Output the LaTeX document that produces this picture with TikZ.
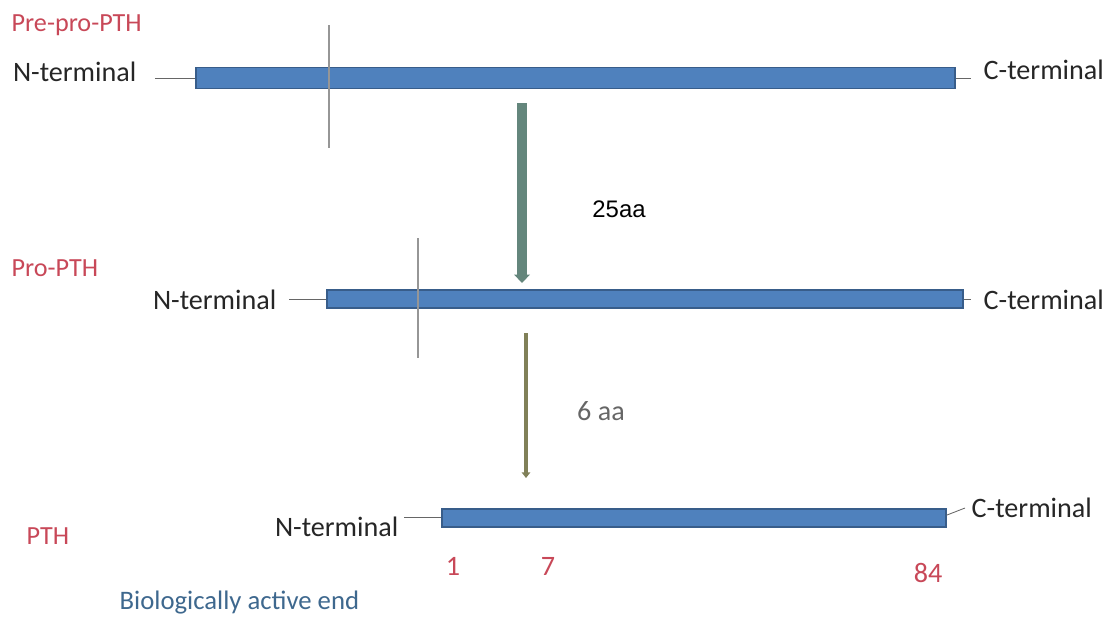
\documentclass[tikz,border=0pt]{standalone}
\usepackage{fontspec}
\setmainfont{Carlito}
\newfontfamily\arialfont{Liberation Sans}
\usetikzlibrary{arrows.meta}
\definecolor{stagered}{RGB}{200,72,88}
\definecolor{barblue}{RGB}{79,129,189}
\definecolor{barline}{RGB}{56,93,138}
\definecolor{cutgray}{RGB}{150,150,150}
\definecolor{arrowgreen}{RGB}{100,134,124}
\definecolor{arrowolive}{RGB}{128,128,88}
\definecolor{activeblue}{RGB}{62,104,142}
\newcommand{\pxl}{0.025cm}
\tikzset{
  bar/.style={draw=barline, fill=barblue, line width=0.8pt, inner sep=0pt},
  lbl/.style={font=\fontsize{20}{24}\selectfont, text=black!85, inner sep=1pt},
  stage/.style={lbl, font=\fontsize{18.6}{22}\selectfont, text=stagered, anchor=west},
  numlbl/.style={lbl, text=stagered},
  link/.style={draw=black!60, line width=0.6pt},
  cut/.style={draw=cutgray, line width=1.1pt},
}
\begin{document}
\begin{tikzpicture}[x=\pxl, y=-\pxl]
  \useasboundingbox (0,0) rectangle (1104,618);
  % Pre-pro-PTH
  \node[stage] (pre) at (10,25) {Pre-pro-PTH};
  \node[bar, minimum width=759*\pxl, minimum height=21*\pxl] (bar1) at (575.5,78) {};
  \node[lbl, anchor=east] (n1) at (138,72) {N-terminal};
  \node[lbl, anchor=west] (c1) at (982,70) {C-terminal};
  \draw[link, shorten <=12pt] (n1.east |- bar1.west) -- (bar1.west);
  \draw[link, shorten >=8pt] (bar1.east) -- (c1.west |- bar1.east);
  \draw[cut] (329,25) -- (329,148);
  % first cleavage
  \coordinate (a1s) at (522,103);
  \coordinate (a1e) at (522,283);
  \draw[draw=arrowgreen, line width=7pt, -{Triangle[width=11pt,length=6pt]}] (a1s) -- (a1e);
  \node[font=\arialfont\fontsize{17}{20}\selectfont] (aa25) at (619,209) {25aa};
  % Pro-PTH
  \node[stage] (pro) at (10,268) {Pro-PTH};
  \node[bar, minimum width=636*\pxl, minimum height=18*\pxl] (bar2) at (645,299) {};
  \node[lbl, anchor=east] (n2) at (278,300) {N-terminal};
  \node[lbl, anchor=west] (c2) at (982,300) {C-terminal};
  \draw[link, shorten <=8pt] (n2.east |- bar2.west) -- (bar2.west);
  \draw[link, shorten >=8pt] (bar2.east) -- (c2.west |- bar2.east);
  \draw[cut] (418,238) -- (418,358);
  % second cleavage
  \coordinate (a2s) at (526,333);
  \coordinate (a2e) at (526,478);
  \draw[draw=arrowolive, line width=3.5pt, -{Triangle[width=6pt,length=4pt]}] (a2s) -- (a2e);
  \node[lbl, text=black!60] (aa6) at (601,411) {6 aa};
  % PTH
  \node[stage] (pth) at (25,536) {PTH};
  \node[bar, minimum width=504*\pxl, minimum height=18*\pxl] (bar3) at (694,518) {};
  \node[lbl, anchor=east] (n3) at (400,527) {N-terminal};
  \node[lbl, anchor=west] (c3) at (970,508) {C-terminal};
  \coordinate (n3l) at (404,517);
  \draw[link] (n3l) -- (bar3.west |- n3l);
  \coordinate (c3l) at (965,508);
  \draw[link] ([yshift=2pt]bar3.east) -- (c3l);
  \node[numlbl] (p1) at (453,566) {1};
  \node[numlbl] (p7) at (548,566) {7};
  \node[numlbl] (p84) at (928,573) {84};
  \node[lbl, font=\fontsize{19}{23}\selectfont, text=activeblue, anchor=west] (active) at (118,603) {Biologically active end};
\end{tikzpicture}
\end{document}
